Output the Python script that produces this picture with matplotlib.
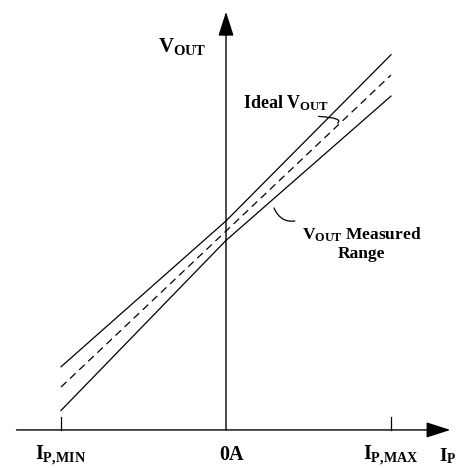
import matplotlib
matplotlib.use("Agg")
import matplotlib.pyplot as plt
from matplotlib.path import Path
from matplotlib.patches import PathPatch

plt.rcParams["font.family"] = ["Liberation Serif", "DejaVu Serif"]
plt.rcParams["font.weight"] = "bold"
plt.rcParams["mathtext.fontset"] = "custom"
plt.rcParams["mathtext.rm"] = "Liberation Serif:bold"
plt.rcParams["mathtext.it"] = "Liberation Serif:bold"
plt.rcParams["mathtext.bf"] = "Liberation Serif:bold"

# primary current (normalised): I_P,MIN, 0A, I_P,MAX
i_p = [-1.0, 0.0, 1.0]
tick_labels = [r"$I_{P,\!MIN}$", "0A", r"$I_{P,\!MAX}$"]

# output voltage (arbitrary units)
v_ideal = [0.50, 2.50, 4.50]
v_upper = [0.76, 2.63, 4.76]
v_lower = [0.20, 2.38, 4.23]

fig = plt.figure(figsize=(4.71, 4.68), dpi=100)
ax = fig.add_axes([0, 0, 1, 1])
ax.set_xlim(-1.370, 1.485)
ax.set_ylim(-0.538, 5.462)
ax.axis("off")

lw = 0.9
ax.plot(i_p, v_upper, color="black", lw=lw)
ax.plot(i_p, v_lower, color="black", lw=lw)
ax.plot(i_p, v_ideal, color="black", lw=lw, ls=(0, (6, 4)))

# axes with arrow heads
x_axis_v = -0.05
arrow = dict(arrowstyle="-|>,head_length=0.75,head_width=0.24", color="black",
             lw=1.0, mutation_scale=20, shrinkA=0, shrinkB=0)
ax.annotate("", xy=(1.36, x_axis_v), xytext=(-1.27, x_axis_v), arrowprops=arrow)
ax.annotate("", xy=(0.0, 5.31), xytext=(0.0, x_axis_v), arrowprops=arrow)

# tick marks at I_P,MIN and I_P,MAX
for x in (i_p[0], i_p[2]):
    ax.plot([x, x], [x_axis_v, 0.115], color="black", lw=lw)

for x, lab in zip(i_p, tick_labels):
    ax.text(x + (0.035 if lab == "0A" else 0.0), -0.43, lab, ha="center",
            va="baseline", fontsize=14.5)
ax.text(1.29, -0.45, r"$I_P$", ha="left", va="baseline", fontsize=14)
ax.text(-0.41, 4.79, r"$V_{OUT}$", ha="left", va="baseline", fontsize=15)

# callouts
ax.text(0.10, 4.07, r"Ideal $V_{OUT}$", ha="left", va="baseline", fontsize=13)
ax.text(0.82, 2.15, "$V_{OUT}$ Measured\nRange", ha="center", va="baseline",
        fontsize=12.5, multialignment="center", linespacing=1.2)


def bracket(p0, c, p1):
    path = Path([p0, c, p1], [Path.MOVETO, Path.CURVE3, Path.CURVE3])
    ax.add_patch(PathPatch(path, fill=False, color="black", lw=lw))


bracket((0.558, 3.97), (0.72, 3.95), (0.674, 3.88))
bracket((0.29, 2.80), (0.33, 2.60), (0.42, 2.63))

fig.savefig("out.png", dpi=100)
